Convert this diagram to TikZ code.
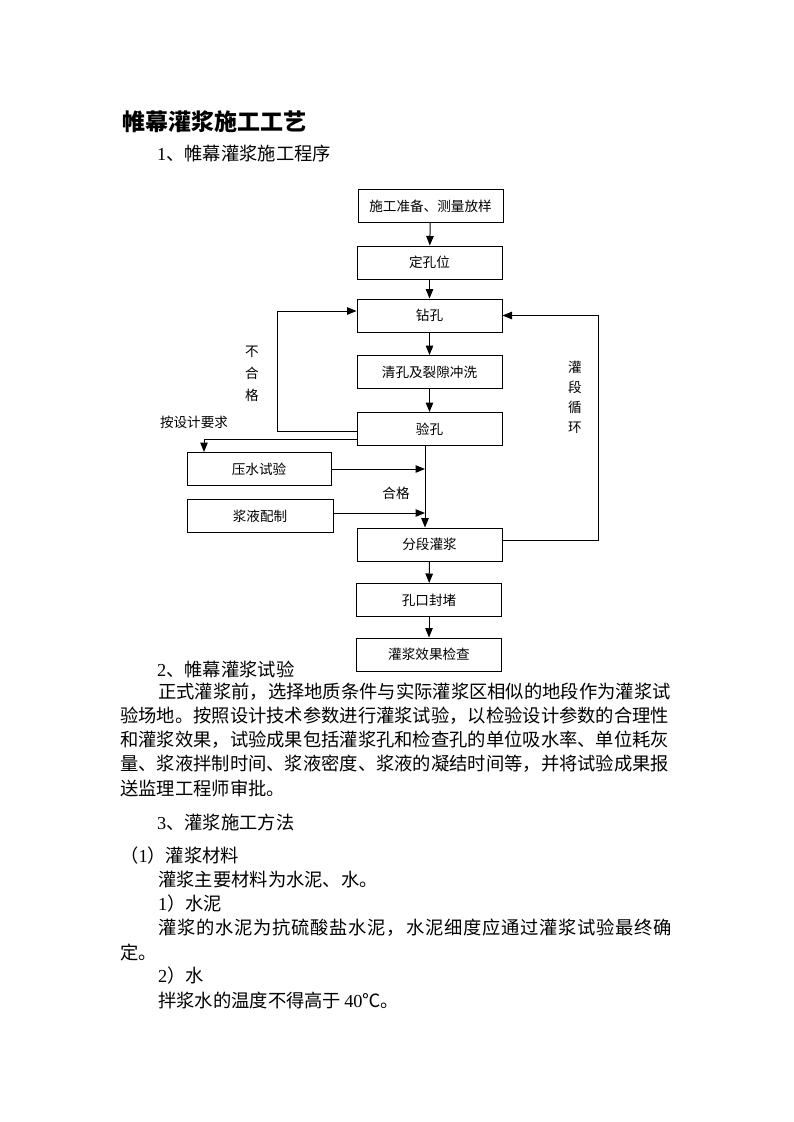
\documentclass[tikz,border=0pt]{standalone}
\usepackage{fontspec}
\setmainfont{Noto Sans CJK SC}
\newfontfamily\latin{Liberation Serif}
\usetikzlibrary{arrows.meta}

\tikzset{
  stepbox/.style={draw, line width=1pt, minimum width=145pt, minimum height=33pt,
    inner sep=0pt, font=\fontsize{13.6}{16}\selectfont},
  flow/.style={line width=1pt, -{Triangle[length=9.5pt,width=7.5pt]}},
  tag/.style={inner sep=0pt, font=\fontsize{13.6}{16}\selectfont},
  vtag/.style={inner sep=0pt, align=center, font=\fontsize{13.6}{#1}\selectfont},
  body/.style={anchor=west, inner sep=0pt, font=\fontsize{18.3}{22}\selectfont},
}
% spread one line of Chinese text to a given width
\def\gapchars#1{\ifx#1\relax\else\hfil#1\expandafter\gapchars\fi}
\newcommand{\spreadline}[3]{\makebox[#1][s]{#2\gapchars#3\relax}}

\begin{document}
\begin{tikzpicture}[x=1pt,y=-1pt]
 \fill[white] (0,0) rectangle (793,1122);
 \useasboundingbox (0,0) rectangle (793,1122);

 % headings
 \node[body, font=\fontsize{23}{26}\selectfont\bfseries] (title) at (122,122) {帷幕灌浆施工工艺};
 \node[body] (h1) at (157,154) {{\latin 1}、帷幕灌浆施工程序};

 % flow chart
 \node[stepbox] (b1) at (430.5,206) {施工准备、测量放样};
 \node[stepbox] (b2) at (429.5,262.5) {定孔位};
 \node[stepbox] (b3) at (429.5,315.5) {钻孔};
 \node[stepbox] (b4) at (429.5,372) {清孔及裂隙冲洗};
 \node[stepbox] (b5) at (429.5,429) {验孔};
 \node[stepbox, minimum width=144pt] (b6) at (259,469) {压水试验};
 \node[stepbox, minimum width=146pt] (b7) at (260,516) {浆液配制};
 \node[stepbox] (b8) at (429.5,544.5) {分段灌浆};
 \node[stepbox] (b9) at (429,600) {孔口封堵};
 \node[stepbox] (b10) at (429,654.5) {灌浆效果检查};

 \draw[flow] (b1) -- (b2);
 \draw[flow] (b2) -- (b3);
 \draw[flow] (b3) -- (b4);
 \draw[flow] (b4) -- (b5);
 \draw[flow] (b8) -- (b9);
 \draw[flow] (b9) -- (b10);

 % not passed: back to drilling
 \coordinate (failtop) at (277,311);
 \draw[flow] ([yshift=-2pt]b5.west) -| (failtop) -- (b3.west |- failtop);
 % water pressure test by design
 \draw[flow] ([yshift=-10pt]b5.west) -| ([xshift=-55pt]b6.north);
 % passed: down to grouting
 \coordinate (main) at ([xshift=-4.5pt]b5.south);
 \draw[flow] (main) -- (main |- b8.north);
 \draw[flow] (b6.east) -- (main |- b6.east);
 \coordinate (mix) at ([yshift=3pt]b7.east);
 \draw[flow] (mix) -- (main |- mix);
 % next section loop
 \draw[flow] ([yshift=4.5pt]b8.east) -| ([xshift=96pt]b3.east) -- (b3.east);

 \node[vtag=22pt] (fail) at (252,374) {不\\合\\格};
 \node[tag] (design) at (194,422) {按设计要求};
 \node[tag] (pass) at (396,493) {合格};
 \node[vtag=20pt] (loop) at (575,397) {灌\\段\\循\\环};

 % text below
 \node[body] (h2) at (157,669) {{\latin 2}、帷幕灌浆试验};
 \node[body] (p1) at (158,692) {正式灌浆前，选择地质条件与实际灌浆区相似的地段作为灌浆试};
 \node[body] (p2) at (120,716) {验场地。按照设计技术参数进行灌浆试验，以检验设计参数的合理性};
 \node[body] (p3) at (120,740) {和灌浆效果，试验成果包括灌浆孔和检查孔的单位吸水率、单位耗灰};
 \node[body] (p4) at (120,764) {量、浆液拌制时间、浆液密度、浆液的凝结时间等，并将试验成果报};
 \node[body] (p5) at (120,788) {送监理工程师审批。};
 \node[body] (h3) at (157,822) {{\latin 3}、灌浆施工方法};
 \node[body] (h31) at (120,856) {（{\latin 1}）灌浆材料};
 \node[body] (p6) at (158,880) {灌浆主要材料为水泥、水。};
 \node[body] (h311) at (158,904) {{\latin 1}）水泥};
 \node[body] (p7) at (158,928) {\spreadline{514pt}{灌}{浆的水泥为抗硫酸盐水泥，水泥细度应通过灌浆试验最终确}};
 \node[body] (p8) at (120,952) {定。};
 \node[body] (h312) at (158,976) {{\latin 2}）水};
 \node[body] (p9) at (158,1000) {拌浆水的温度不得高于\,{\latin 40}℃。};
\end{tikzpicture}
\end{document}
